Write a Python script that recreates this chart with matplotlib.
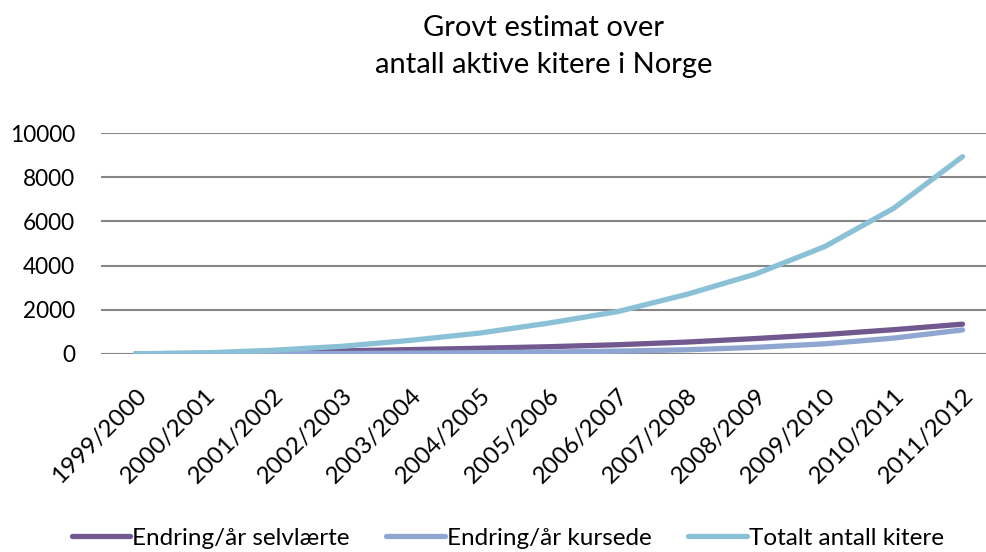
import matplotlib.pyplot as plt

# sesonger
seasons = ['1999/2000', '2000/2001', '2001/2002', '2002/2003', '2003/2004',
           '2004/2005', '2005/2006', '2006/2007', '2007/2008', '2008/2009',
           '2009/2010', '2010/2011', '2011/2012']

# anslag lest av figuren
selvlaerte = [10, 30, 80, 140, 200, 260, 330, 420, 540, 700, 880, 1100, 1350]
kursede = [5, 10, 15, 25, 40, 60, 90, 130, 190, 300, 460, 720, 1090]
totalt = [10, 50, 170, 350, 620, 950, 1400, 1920, 2700, 3620, 4860, 6590, 8930]

series_names = ['Endring/år selvlærte', 'Endring/år kursede', 'Totalt antall kitere']
colors = ['#71588F', '#8FA6D0', '#8BC1D6']

plt.rcParams['font.family'] = ['Lato', 'DejaVu Sans']

fig = plt.figure(figsize=(9.86, 5.52), dpi=100)
ax = fig.add_axes([101 / 986, 1 - 354 / 552, 896 / 986, 221 / 552])

x = range(len(seasons))
for vals, name, c in zip([selvlaerte, kursede, totalt], series_names, colors):
    ax.plot(x, vals, color=c, linewidth=3.8, solid_capstyle='round', label=name)

ax.set_xlim(-0.5, len(seasons) - 0.5)
ax.set_ylim(0, 10000)
ax.set_yticks(range(0, 10001, 2000))
ax.set_yticklabels([str(v) for v in range(0, 10001, 2000)], fontsize=16.3)
ax.set_xticks(list(x))
ax.set_xticklabels(seasons, rotation=45, ha='right', va='top',
                   rotation_mode='anchor', fontsize=17.5)
ax.tick_params(axis='both', length=0)
ax.tick_params(axis='y', pad=18.5)
ax.tick_params(axis='x', pad=22)

ax.grid(axis='y', color='#868686', linewidth=1.5)
ax.set_axisbelow(True)
for s in ax.spines.values():
    s.set_visible(False)

fig.text(0.551, 0.916, 'Grovt estimat over\nantall aktive kitere i Norge',
         ha='center', va='center', fontsize=21, linespacing=1.55)

fig.legend(loc='center', bbox_to_anchor=(0.515, 0.025), ncol=3, frameon=False,
           fontsize=17.5, handlelength=2.4, handletextpad=0.1, columnspacing=1.5)

fig.savefig('out.png', dpi=100)
